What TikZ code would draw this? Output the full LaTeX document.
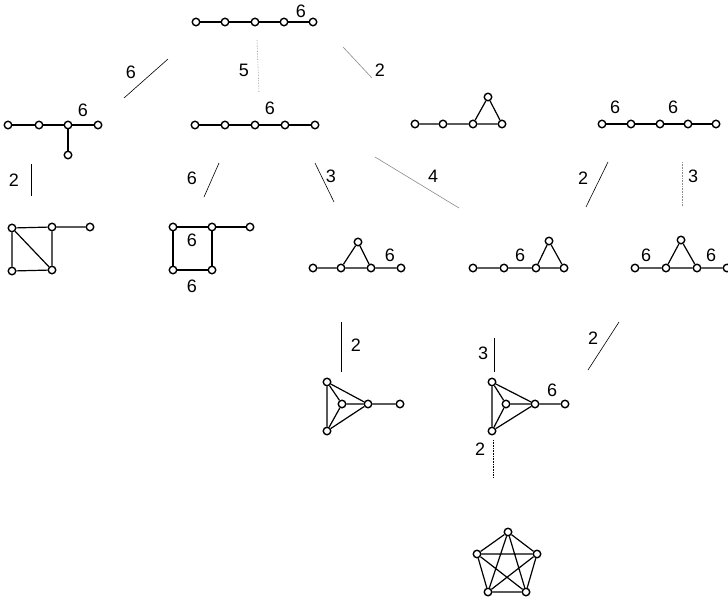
\documentclass[tikz,border=0pt]{standalone}
\usepackage{fontspec}
\setmainfont{Liberation Sans}
\usetikzlibrary{positioning}

\begin{document}
\begin{tikzpicture}[
  x=1pt, y=-1pt,
  v/.style={circle, draw, line width=1.4pt, fill=white, inner sep=0pt, minimum size=7.5pt},
  e/.style={line width=1.2pt},
  lnk/.style={line width=0.6pt},
  faint/.style={line width=0.6pt, black!45},
  w/.style={font=\fontsize{18}{20}\selectfont, inner sep=1pt}]
  \useasboundingbox (0,0) rectangle (728,600);
  % top graph
  \foreach \i/\x in {1/196,2/225,3/255,4/284,5/313} \node[v] (g\i) at (\x,22) {};
  \draw[e] (g1) -- (g2) -- (g3) -- (g4) -- (g5);
  \node[w] at (301,11) {6};
  % second row
  \foreach \i/\x in {1/8,2/39,3/68,4/98} \node[v] (a\i) at (\x,125) {};
  \node[v] (a5) at (68,155) {};
  \draw[e] (a1) -- (a2) -- (a3) -- (a4) (a3) -- (a5);
  \node[w] at (83,110) {6};
  \foreach \i/\x in {1/195,2/225,3/255,4/285,5/315} \node[v] (b\i) at (\x,125) {};
  \draw[e] (b1) -- (b2) -- (b3) -- (b4) -- (b5);
  \node[w] at (270,108) {6};
  \foreach \i/\x in {1/415,2/443,3/473,4/502} \node[v] (c\i) at (\x,124) {};
  \node[v] (c5) at (488,97) {};
  \draw[e] (c1) -- (c2) -- (c3) -- (c4) -- (c5) -- (c3);
  \foreach \i/\x in {1/602,2/631,3/660,4/688,5/716} \node[v] (d\i) at (\x,124) {};
  \draw[e] (d1) -- (d2) -- (d3) -- (d4) -- (d5);
  \node[w] at (615,107) {6};
  \node[w] at (673,107) {6};
  % third row
  \node[v] (p1) at (12,228) {};
  \node[v] (p2) at (52,227) {};
  \node[v] (p3) at (90,227) {};
  \node[v] (p4) at (12,271) {};
  \node[v] (p5) at (52,270) {};
  \draw[e] (p3) -- (p2) -- (p1) -- (p4) -- (p5) -- (p2) (p1) -- (p5);
  \node[v] (q1) at (173,227) {};
  \node[v] (q2) at (212,227) {};
  \node[v] (q3) at (250,227) {};
  \node[v] (q4) at (173,270) {};
  \node[v] (q5) at (212,270) {};
  \draw[e] (q3) -- (q2) -- (q1) -- (q4) -- (q5) -- (q2);
  \node[w] at (192,240) {6};
  \node[w] at (192,286) {6};
  \node[v] (r1) at (313,268) {};
  \node[v] (r2) at (341,268) {};
  \node[v] (r3) at (358,242) {};
  \node[v] (r4) at (371,268) {};
  \node[v] (r5) at (401,268) {};
  \draw[e] (r1) -- (r2) -- (r4) -- (r5) (r2) -- (r3) -- (r4);
  \node[w] at (390,255) {6};
  \node[v] (s1) at (473,268) {};
  \node[v] (s2) at (504,268) {};
  \node[v] (s3) at (536,268) {};
  \node[v] (s4) at (549,241) {};
  \node[v] (s5) at (564,268) {};
  \draw[e] (s1) -- (s2) -- (s3) -- (s5) -- (s4) -- (s3);
  \node[w] at (520,255) {6};
  \node[v] (h1) at (635,268) {};
  \node[v] (h2) at (666,268) {};
  \node[v] (h3) at (681,240) {};
  \node[v] (h4) at (697,268) {};
  \node[v] (h5) at (727,268) {};
  \draw[e] (h1) -- (h2) -- (h4) -- (h5) (h2) -- (h3) -- (h4);
  \node[w] at (646,255) {6};
  \node[w] at (711,255) {6};
  % fourth row
  \node[v] (i1) at (327,382) {};
  \node[v] (i2) at (342,404) {};
  \node[v] (i3) at (368,404) {};
  \node[v] (i4) at (400,404) {};
  \node[v] (i5) at (327,431) {};
  \draw[e] (i1) -- (i5) -- (i3) -- (i1) -- (i2) -- (i3) -- (i4) (i5) -- (i2);
  \node[v] (j1) at (492,382) {};
  \node[v] (j2) at (506,404) {};
  \node[v] (j3) at (535,404) {};
  \node[v] (j4) at (565,404) {};
  \node[v] (j5) at (492,431) {};
  \draw[e] (j1) -- (j5) -- (j3) -- (j1) -- (j2) -- (j3) -- (j4) (j5) -- (j2);
  \node[w] at (552,390) {6};
  % complete graph
  \node[v] (k1) at (508,532) {};
  \node[v] (k2) at (477,554) {};
  \node[v] (k3) at (537,554) {};
  \node[v] (k4) at (488,592) {};
  \node[v] (k5) at (526,592) {};
  \draw[e] (k1) -- (k2) -- (k4) -- (k5) -- (k3) -- (k1) -- (k4) -- (k3) -- (k2) -- (k5) -- (k1);
  % connectors
  \coordinate (t1) at (168,59);  \coordinate (t2) at (124,98);
  \draw[lnk] (t1) -- (t2);
  \node[w] at (131,72) {6};
  \coordinate (t3) at (257,40);  \coordinate (t4) at (259,92);
  \draw[faint, densely dotted] (t3) -- (t4);
  \node[w] at (244,70) {5};
  \coordinate (t5) at (343,47);  \coordinate (t6) at (372,78);
  \draw[faint] (t5) -- (t6);
  \node[w] at (380,70) {2};
  \coordinate (u1) at (31,164);  \coordinate (u2) at (31,196);
  \draw[lnk] (u1) -- (u2);
  \node[w] at (14,180) {2};
  \coordinate (u3) at (219,163);  \coordinate (u4) at (204,197);
  \draw[lnk] (u3) -- (u4);
  \node[w] at (192,178) {6};
  \coordinate (u5) at (315,163);  \coordinate (u6) at (334,202);
  \draw[lnk] (u5) -- (u6);
  \node[w] at (331,176) {3};
  \coordinate (u7) at (375,157);  \coordinate (u8) at (459,208);
  \draw[faint] (u7) -- (u8);
  \node[w] at (433,176) {4};
  \coordinate (u9) at (608,162);  \coordinate (u10) at (586,207);
  \draw[lnk] (u9) -- (u10);
  \node[w] at (583,178) {2};
  \coordinate (u11) at (682,162);  \coordinate (u12) at (682,206);
  \draw[faint, densely dotted] (u11) -- (u12);
  \node[w] at (693,176) {3};
  \coordinate (w1) at (341,322);  \coordinate (w2) at (341,372);
  \draw[lnk] (w1) -- (w2);
  \node[w] at (356,345) {2};
  \coordinate (w3) at (494,338);  \coordinate (w4) at (494,372);
  \draw[lnk] (w3) -- (w4);
  \node[w] at (483,353) {3};
  \coordinate (w5) at (619,322);  \coordinate (w6) at (588,370);
  \draw[lnk] (w5) -- (w6);
  \node[w] at (593,338) {2};
  \coordinate (w7) at (493,440);  \coordinate (w8) at (493,478);
  \draw[lnk, densely dotted] (w7) -- (w8);
  \node[w] at (480,449) {2};
\end{tikzpicture}
\end{document}
